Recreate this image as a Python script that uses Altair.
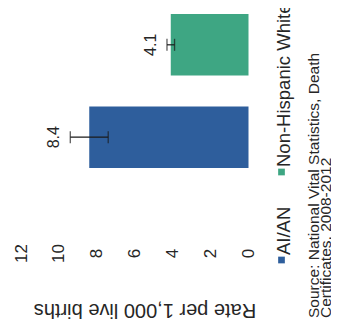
import altair as alt
import pandas as pd

# ---- data read from the (rotated) reference ----
groups = ["Non-Hispanic White", "AI/AN"]
rates = [4.1, 8.4]
ci_low = [3.9, 7.4]
ci_high = [4.3, 9.4]
rate_labels = ["4.1", "8.4"]
bar_colors = ["#3ea683", "#2e5e9c"]
tick_values = [0, 2, 4, 6, 8, 10, 12]
axis_title = "Rate per 1,000 live births"
source_lines = ["Source: National Vital Statistics, Death", "Certificates, 2008-2012"]

df = pd.DataFrame({"group": groups, "rate": rates, "low": ci_low,
                   "high": ci_high, "label": rate_labels})

FONT = "Liberation Sans"
TXT = "#262626"

xscale = alt.Scale(domain=[0, 12], range=[240.5, 13], nice=False, zero=True)
yscale = alt.Scale(domain=groups, range=[6, 160], paddingInner=0.333, paddingOuter=0)
color_scale = alt.Scale(domain=groups, range=bar_colors)

x_axis = alt.Axis(values=tick_values, title=None, orient="bottom", grid=False,
                  domain=False, ticks=False, tickSize=0, labelPadding=75,
                  labelAngle=270, labelAlign="center", labelBaseline="middle",
                  labelFont=FONT, labelFontSize=17, labelColor=TXT,
                  labelFlush=False, labelOverlap=False)

Y = alt.Y("group:N", scale=yscale, axis=None)

base = alt.Chart(df)

bars = base.mark_bar(opacity=1).encode(
    x=alt.X("rate:Q", scale=xscale, axis=x_axis),
    y=Y,
    color=alt.Color("group:N", scale=color_scale, legend=None),
)

err = base.mark_rule(color="#1a1a1a", strokeWidth=1.2).encode(
    x=alt.X("low:Q", scale=xscale),
    x2="high:Q",
    y=Y,
)

caps = base.transform_fold(["low", "high"], as_=["end", "val"]).mark_tick(
    color="#1a1a1a", size=12, thickness=1.3
).encode(
    x=alt.X("val:Q", scale=xscale),
    y=Y,
)

# with angle 270 the dy offset is applied in the text's own frame -> moves left on screen
labels = base.mark_text(angle=270, align="center", baseline="middle", dy=-16,
                        font=FONT, fontSize=16, color=TXT).encode(
    x=alt.X("high:Q", scale=xscale),
    y=Y,
    text="label:N",
)

title = alt.Chart(pd.DataFrame({"t": [axis_title]})).mark_text(
    angle=180, align="center", baseline="middle", font=FONT, fontSize=20, color=TXT
).encode(x=alt.value(137), y=alt.value(302), text="t:N")

# legend drawn by hand (rotated like the reference)
def legend_entry(name, color, ysq):
    d = pd.DataFrame({"t": [name]})
    sq = alt.Chart(d).mark_square(size=45, opacity=1, color=color).encode(
        x=alt.value(273.5), y=alt.value(ysq))
    tx = alt.Chart(d).mark_text(angle=270, align="left", baseline="middle",
                                font=FONT, fontSize=18.5, color=TXT).encode(
        x=alt.value(275.5), y=alt.value(ysq - 5), text="t:N")
    return [sq, tx]

leg = legend_entry(groups[0], bar_colors[0], 164) + legend_entry(groups[1], bar_colors[1], 252)

src1 = alt.Chart(pd.DataFrame({"t": [source_lines[0]]})).mark_text(
    angle=270, align="left", baseline="middle", font=FONT, fontSize=15.5, color=TXT
).encode(x=alt.value(305.5), y=alt.value(310), text="t:N")
src2 = alt.Chart(pd.DataFrame({"t": [source_lines[1]]})).mark_text(
    angle=270, align="left", baseline="middle", font=FONT, fontSize=15.5, color=TXT
).encode(x=alt.value(318), y=alt.value(310), text="t:N")

chart = alt.layer(bars, err, caps, labels, title, *leg, src1, src2).properties(
    width=323, height=170,
    autosize=alt.AutoSizeParams(type="none"),
    padding={"left": 0, "top": 0, "right": 0, "bottom": 145},
    background="white",
).configure_view(stroke=None)

chart.save("out.html", embed_options={"renderer": "svg", "actions": False})
